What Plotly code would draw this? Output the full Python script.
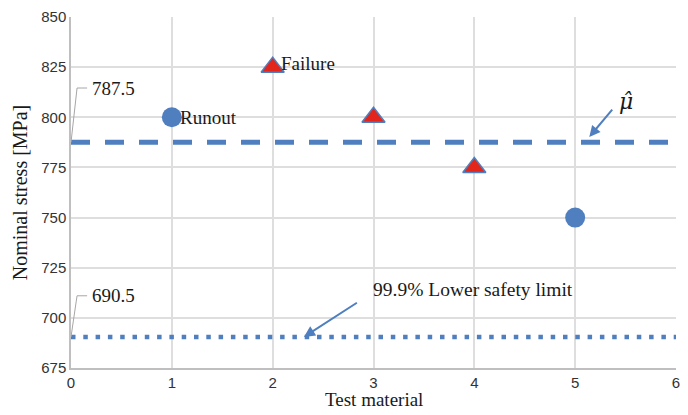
import plotly.graph_objects as go

runout_x = [1, 5]
runout_y = [800, 750]
failure_x = [2, 3, 4]
failure_y = [825, 800, 775]
mean_val = 787.5
lower_val = 690.5
x_range = [0, 6]
y_ticks = [675, 700, 725, 750, 775, 800, 825, 850]
x_ticks = [0, 1, 2, 3, 4, 5, 6]

blue = "#4f7fbf"
txt = "#1a1a1a"
serif = "Liberation Serif"
fig = go.Figure()

fig.add_trace(go.Scatter(x=x_range, y=[mean_val, mean_val], mode="lines",
                         line=dict(color=blue, width=5, dash="19px,15px"), showlegend=False))
fig.add_trace(go.Scatter(x=x_range, y=[lower_val, lower_val], mode="lines",
                         line=dict(color=blue, width=4.5, dash="4.5px,7.8px"), showlegend=False))
fig.add_trace(go.Scatter(x=runout_x, y=runout_y, mode="markers",
                         marker=dict(symbol="circle", size=20, color=blue), showlegend=False))
fig.add_trace(go.Scatter(x=failure_x, y=failure_y, mode="markers",
                         marker=dict(symbol="triangle-up", size=20, color="#e2261c",
                                     line=dict(color=blue, width=1.5)), showlegend=False))

# leader lines for data labels
fig.add_shape(type="path", path=f"M 0 {mean_val} L 0.06 814.6 L 0.16 814.6",
              line=dict(color="#a6a6a6", width=1))
fig.add_shape(type="path", path=f"M 0 {lower_val} L 0.06 711 L 0.16 711",
              line=dict(color="#a6a6a6", width=1))

ann = [
    dict(x=0.19, y=814.6, text=str(mean_val)),
    dict(x=0.19, y=711, text=str(lower_val)),
    dict(x=1.06, y=800, text="Runout"),
    dict(x=2.06, y=827, text="Failure"),
]
for a in ann:
    fig.add_annotation(x=a["x"], y=a["y"], text=a["text"], xanchor="left", yanchor="middle",
                       showarrow=False, font=dict(family=serif, size=19, color=txt))

fig.add_annotation(x=2.31, y=690.5, ax=2.85, ay=708, axref="x", ayref="y", xref="x", yref="y",
                   text="", showarrow=True, arrowhead=2, arrowsize=1.1, arrowwidth=2, arrowcolor=blue)
fig.add_annotation(x=2.98, y=714, text="99.9% Lower safety limit", xanchor="left", yanchor="middle",
                   showarrow=False, font=dict(family=serif, size=19.5, color=txt))
fig.add_annotation(x=5.14, y=790.2, ax=5.38, ay=804.6, axref="x", ayref="y", xref="x", yref="y",
                   text="", showarrow=True, arrowhead=2, arrowsize=1.1, arrowwidth=2, arrowcolor=blue)
fig.add_annotation(x=5.41, y=808, text="<i>μ̂</i>", xanchor="left", yanchor="middle",
                   showarrow=False, font=dict(family="DejaVu Serif", size=22, color=txt))

# x-axis title as an annotation placed below the tick labels
fig.add_annotation(x=0.5, y=-0.09, xref="paper", yref="paper", text="Test material",
                   xanchor="center", yanchor="middle", showarrow=False, borderpad=0,
                   font=dict(family=serif, size=19, color=txt))

fig.update_layout(
    width=672, height=399,
    margin=dict(l=63, r=4, t=9, b=39),
    plot_bgcolor="white", paper_bgcolor="white",
    xaxis=dict(range=x_range, tickvals=x_ticks, showgrid=True, gridcolor="#dedede", gridwidth=1.5,
               zeroline=False, showline=True, linecolor="#bfbfbf", linewidth=1.5,
               automargin=False, ticklabeloverflow="allow",
               tickfont=dict(family="Liberation Sans", size=15, color="#333333")),
    yaxis=dict(range=[675, 850], tickvals=y_ticks, showgrid=True, gridcolor="#dedede", gridwidth=1.5,
               zeroline=False, showline=True, linecolor="#bfbfbf", linewidth=1.5,
               automargin=False, ticklabeloverflow="allow",
               tickfont=dict(family="Liberation Sans", size=15, color="#333333"),
               title=dict(text="Nominal stress [MPa]", font=dict(family=serif, size=20, color=txt), standoff=8)),
)

fig.write_html("out.html")
